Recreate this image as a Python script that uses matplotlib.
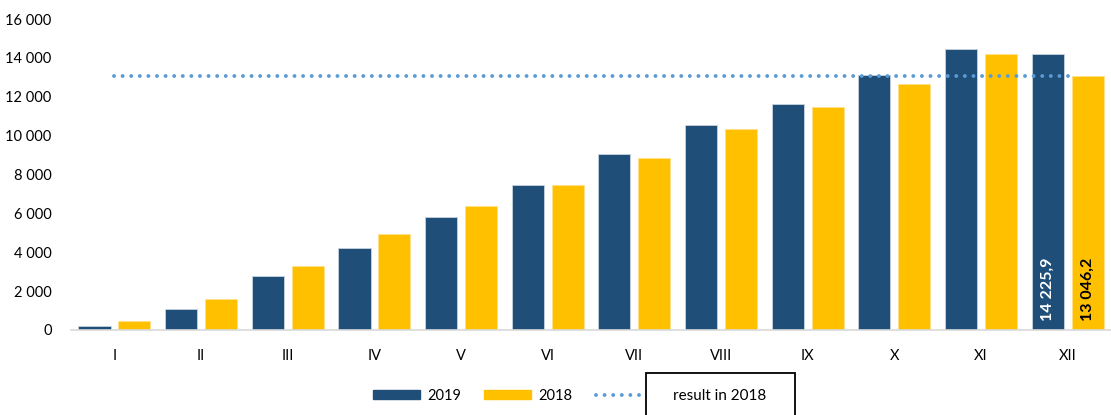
import numpy as np
import matplotlib.pyplot as plt
from matplotlib.lines import Line2D
from matplotlib.patches import Patch, Rectangle

plt.rcParams['font.family'] = ['Lato', 'DejaVu Sans']

months = ['I', 'II', 'III', 'IV', 'V', 'VI', 'VII', 'VIII', 'IX', 'X', 'XI', 'XII']
v2019 = [200, 1080, 2780, 4220, 5810, 7450, 9050, 10540, 11640, 13100, 14470, 14225.9]
v2018 = [480, 1580, 3290, 4940, 6380, 7450, 8840, 10330, 11480, 12670, 14190, 13046.2]
result_2018 = 13046.2
yticks = [0, 2000, 4000, 6000, 8000, 10000, 12000, 14000, 16000]

navy = '#1F4E79'
gold = '#FFC000'
blue = '#5B9BD5'
dots = (0, (0.01, 2.2))

fig = plt.figure(figsize=(11.11, 4.15), dpi=100)
ax = fig.add_axes([0.064, 0.205, 0.936, 0.749])

x = np.arange(len(months))
w = 0.37
ax.bar(x - 0.23, v2019, w, color=navy, edgecolor='#c8d3e0', linewidth=0.6, zorder=2)
ax.bar(x + 0.23, v2018, w, color=gold, edgecolor='#ffe08a', linewidth=0.6, zorder=2)
ax.plot([x[0], x[-1]], [result_2018, result_2018], color=blue, linestyle=dots,
        linewidth=2.8, dash_capstyle='round', zorder=3)

# labels for the last month
ax.text(x[-1] - 0.23, 450, '14 225,9', rotation=90, ha='center', va='bottom',
        color='white', fontsize=11.5, fontweight='bold', zorder=4)
ax.text(x[-1] + 0.23, 450, '13 046,2', rotation=90, ha='center', va='bottom',
        color='black', fontsize=11.5, fontweight='bold', zorder=4)

ax.set_xlim(-0.5, 11.5)
ax.set_ylim(0, 16000)
ax.set_xticks(x)
ax.set_xticklabels(months, fontsize=10.5)
ax.set_yticks(yticks)
ax.set_yticklabels([f'{v:,}'.replace(',', ' ') for v in yticks], fontsize=10.5)
ax.tick_params(axis='both', length=0)
ax.tick_params(axis='x', pad=14)
ax.tick_params(axis='y', pad=14)
for s in ['top', 'right', 'left']:
    ax.spines[s].set_visible(False)
ax.spines['bottom'].set_color('#D9D9D9')
ax.spines['bottom'].set_linewidth(1.2)

handles = [Patch(color=navy), Patch(color=gold),
           Line2D([], [], color=blue, linestyle=dots, linewidth=2.8, dash_capstyle='round')]
fig.legend(handles, ['2019', '2018', ''], loc='center left', bbox_to_anchor=(0.336, 0.046), ncol=3,
           frameon=False, fontsize=10.5, handlelength=3.2, handleheight=0.55, columnspacing=1.6,
           handletextpad=0.5, borderpad=0, borderaxespad=0)
fig.patches.append(Rectangle((0.5815, -0.1), 0.134, 0.2012, transform=fig.transFigure,
                             facecolor='white', edgecolor='black', linewidth=1.3))
fig.text(0.648, 0.046, 'result in 2018', ha='center', va='center', fontsize=11)

fig.savefig('out.png', dpi=100)
